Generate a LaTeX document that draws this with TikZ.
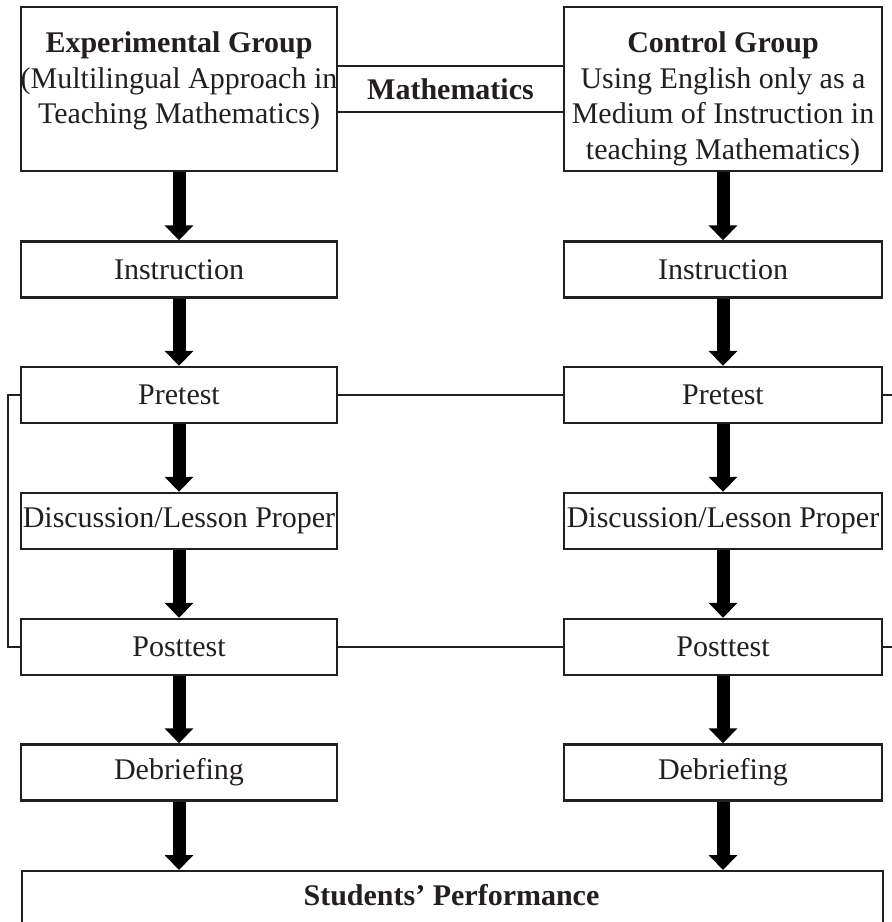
\documentclass[tikz,border=0pt]{standalone}
\usepackage{fontspec}
\setmainfont{Liberation Serif}
\usetikzlibrary{arrows.meta}
\definecolor{ink}{HTML}{231F20}

\tikzset{
  txt/.style={font=\fontsize{30}{35.5}\selectfont, text=ink, inner sep=0pt},
  panel/.style={txt, draw=ink, line width=2.4pt},
  leftcol/.style={panel, minimum width=316pt},
  rightcol/.style={panel, minimum width=318pt},
  stepbox/.style={minimum height=56pt},
  headbox/.style={minimum height=164pt},
  link/.style={draw=ink, line width=2pt},
  flow/.style={draw=black, line width=13pt, -{Triangle[width=28pt,length=15pt]}},
}

\begin{document}
\begin{tikzpicture}[x=1pt,y=-1pt]
  \useasboundingbox (0,0) rectangle (892,922);
  \clip (0,0) rectangle (892,922);

  % group headings
  \node[leftcol, headbox]  (top1) at (179,89) {};
  \node[rightcol, headbox] (top2) at (723,89) {};
  \node[txt, align=center, anchor=north] (top1t) at ([yshift=-26pt]top1.north)
    {\textbf{Experimental Group}\\(Multilingual Approach in\\Teaching Mathematics)};
  \node[txt, align=center, anchor=north] (top2t) at ([yshift=-26pt]top2.north)
    {\textbf{Control Group}\\Using English only as a\\Medium of Instruction in\\teaching Mathematics)};

  % subject link
  \node[txt, font=\fontsize{30}{35.5}\selectfont\bfseries, minimum height=46pt] (math) at (450.5,89) {Mathematics};
  \draw[link] (top1.east |- math.north) -- (top2.west |- math.north);
  \draw[link] (top1.east |- math.south) -- (top2.west |- math.south);

  % left column
  \node[leftcol, stepbox] (ins1)  at (179,269.5) {Instruction};
  \node[leftcol, stepbox] (pre1)  at (179,395)   {Pretest};
  \node[leftcol, stepbox] (dis1)  at (179,521)   {Discussion/Lesson Proper};
  \node[leftcol, stepbox] (post1) at (179,647)   {Posttest};
  \node[leftcol, stepbox] (deb1)  at (179,772.5) {Debriefing};

  % right column
  \node[rightcol, stepbox] (ins2)  at (723,269.5) {Instruction};
  \node[rightcol, stepbox] (pre2)  at (723,395)   {Pretest};
  \node[rightcol, stepbox] (dis2)  at (723,521)   {Discussion/Lesson Proper};
  \node[rightcol, stepbox] (post2) at (723,647)   {Posttest};
  \node[rightcol, stepbox] (deb2)  at (723,772.5) {Debriefing};

  % outcome
  \node[panel, anchor=north west, minimum width=861pt, minimum height=110pt] (perf) at (21,870) {};
  \node[txt, font=\fontsize{30}{35.5}\selectfont\bfseries] (perft) at (451.5,895) {Students’ Performance};

  % test links
  \coordinate (lb) at (8,0);
  \coordinate (rb) at (900,0);
  \draw[link] (pre1) -- (pre2);
  \draw[link] (post1) -- (post2);
  \draw[link] (pre1.west) -- (pre1.west -| lb) -- (post1.west -| lb) -- (post1.west);
  \draw[link] (pre2.east) -- (pre2.east -| rb);
  \draw[link] (post2.east) -- (post2.east -| rb);

  % flow arrows
  \foreach \a/\b in {top1/ins1, ins1/pre1, pre1/dis1, dis1/post1, post1/deb1,
                     top2/ins2, ins2/pre2, pre2/dis2, dis2/post2, post2/deb2}
    \draw[flow] (\a) -- (\b);
  \draw[flow] (deb1) -- (deb1 |- perf.north);
  \draw[flow] (deb2) -- (deb2 |- perf.north);
\end{tikzpicture}
\end{document}
